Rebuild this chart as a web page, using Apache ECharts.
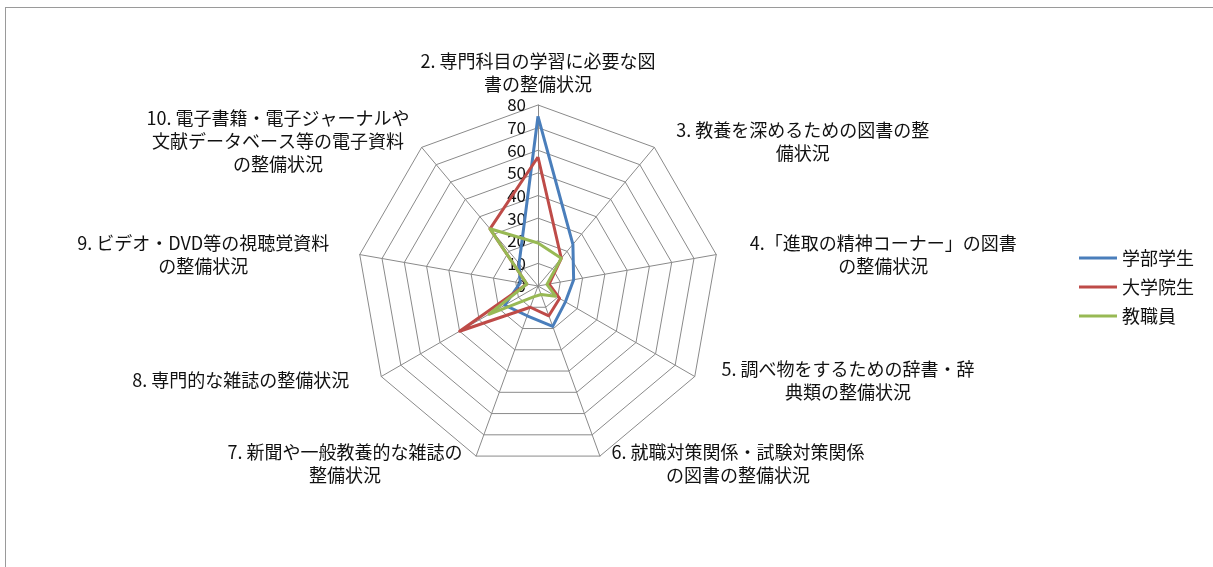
<!DOCTYPE html>
<html>
<head>
<meta charset="utf-8">
<title>図書館資料の整備状況</title>
<script src="https://cdn.jsdelivr.net/npm/echarts@6/dist/echarts.min.js"></script>
<style>
    html, body { margin: 0; padding: 0; background: #fff; }
    #frame { position: absolute; left: 5px; top: 7px; width: 1208px; height: 560px;
             border-top: 1px solid #9a9a9a; border-left: 1px solid #9a9a9a; }
    #main { width: 1213px; height: 567px; position: absolute; left: 0; top: 0; }
</style>
</head>
<body>
<div id="frame"></div>
<div id="main"></div>
<script>
    // 評価項目（2〜10、時計回り）
    var categories = [
        '2. 専門科目の学習に必要な図\n書の整備状況',
        '3. 教養を深めるための図書の整\n備状況',
        '4.「進取の精神コーナー」の図書\nの整備状況',
        '5. 調べ物をするための辞書・辞\n典類の整備状況',
        '6. 就職対策関係・試験対策関係\nの図書の整備状況',
        '7. 新聞や一般教養的な雑誌の\n整備状況',
        '8. 専門的な雑誌の整備状況',
        '9. ビデオ・DVD等の視聴覚資料\nの整備状況',
        '10. 電子書籍・電子ジャーナルや\n文献データベース等の電子資料\nの整備状況'
    ];
    var seriesNames = ['学部学生', '大学院生', '教職員'];
    var undergrad = [75, 24, 16, 14, 19, 14, 17, 8, 13];
    var graduate  = [57, 16, 5, 11, 14, 10, 40, 5, 33];
    var staff     = [19, 16, 4, 9, 4, 5, 25, 5, 33];
    var scaleMax = 80;

    // layout of the axis names (gap along the axis, vertical nudge)
    var nameGaps = [9, 34, 34, 31, 34, 40, 37, 31, 19];
    var nameShift = [0, 20, 6, -11, -24, -30, -15, 5, 8];
    var colors = ['#4a7ebb', '#be4b48', '#98b954'];
    var font = '"Noto Sans CJK JP", "Noto Sans", sans-serif';

    // echarts radar runs counter-clockwise, the chart runs clockwise
    var order = categories.map(function (c, k) { return k === 0 ? 0 : categories.length - k; });
    function reorder(arr) { return order.map(function (i) { return arr[i]; }); }

    var rich = {};
    var indicator = order.map(function (i) {
        rich['l' + i] = { fontSize: 18, lineHeight: 23, color: '#111', fontFamily: font, align: 'center' };
        var s = nameShift[i];
        var ind = {
            name: categories[i], max: scaleMax, min: 0, nameGap: nameGaps[i],
            nameTextStyle: { padding: s >= 0 ? [2 * s, 0, 0, 0] : [0, 0, -2 * s, 0] }
        };
        if (i === 0) ind.axisLabel = { show: true };
        return ind;
    });

    var chart = echarts.init(document.getElementById('main'));
    chart.setOption({
        backgroundColor: 'transparent',
        animation: false,
        textStyle: { fontFamily: font },
        legend: {
            orient: 'vertical',
            right: 14,
            top: 244,
            data: seriesNames,
            icon: 'rect',
            itemWidth: 38,
            itemHeight: 3,
            itemGap: 11,
            textStyle: { fontSize: 18, color: '#111', fontFamily: font }
        },
        radar: {
            center: [538, 286],
            radius: 181,
            startAngle: 90,
            splitNumber: 8,
            shape: 'polygon',
            indicator: indicator,
            axisName: {
                fontSize: 18,
                color: '#111',
                fontFamily: font,
                rich: rich,
                formatter: function (name) {
                    var idx = categories.indexOf(name);
                    return name.split('\n').map(function (line) {
                        return '{l' + idx + '|' + line + '}';
                    }).join('\n');
                }
            },
            axisLine: { lineStyle: { color: '#8a8a8a', width: 1 } },
            splitLine: { lineStyle: { color: '#8a8a8a', width: 1 } },
            splitArea: { show: false },
            axisTick: { show: false },
            axisLabel: { show: false, fontSize: 17, color: '#111', margin: 12, fontFamily: font }
        },
        series: [{
            type: 'radar',
            symbol: 'none',
            data: [
                { name: seriesNames[0], value: reorder(undergrad), lineStyle: { color: colors[0], width: 3 }, itemStyle: { color: colors[0] } },
                { name: seriesNames[1], value: reorder(graduate), lineStyle: { color: colors[1], width: 3 }, itemStyle: { color: colors[1] } },
                { name: seriesNames[2], value: reorder(staff), lineStyle: { color: colors[2], width: 3 }, itemStyle: { color: colors[2] } }
            ]
        }]
    });
</script>
</body>
</html>
